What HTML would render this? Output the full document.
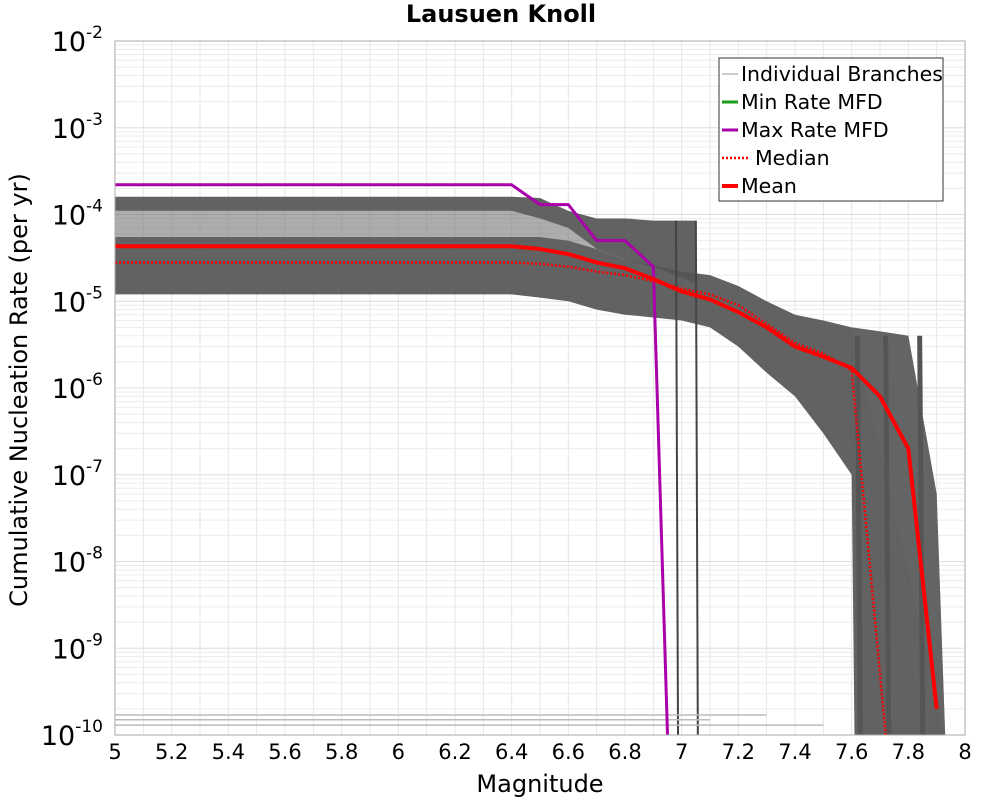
<!DOCTYPE html>
<html><head><meta charset="utf-8"><style>
body{margin:0;background:#fff;}
svg{display:block;font-family:"DejaVu Sans","Liberation Sans",sans-serif;}
</style></head><body>
<svg id="chart" width="1000" height="800" viewBox="0 0 1000 800" xmlns="http://www.w3.org/2000/svg">
<text x="501" y="22" text-anchor="middle" font-size="24" font-weight="bold">Lausuen Knoll</text>
<g id="grid"></g>
<g id="bands"></g>
<g id="lines"></g>
<rect x="115" y="41" width="850" height="694" fill="none" stroke="#aaa" stroke-width="1"/>
<g id="ticks"></g>
<text x="540" y="792" text-anchor="middle" font-size="24">Magnitude</text>
<text transform="translate(27,390) rotate(-90)" text-anchor="middle" font-size="24">Cumulative Nucleation Rate (per yr)</text>
<g>
<rect x="719" y="58" width="224" height="143" fill="#fff" stroke="#333" stroke-width="1"/>
<line x1="722" y1="74" x2="738" y2="74" stroke="#999" stroke-width="1"/>
<text x="741" y="81" font-size="20.5">Individual Branches</text>
<line x1="722" y1="102" x2="738" y2="102" stroke="#1a9e1a" stroke-width="3"/>
<text x="741" y="109" font-size="20.5">Min Rate MFD</text>
<line x1="722" y1="130" x2="738" y2="130" stroke="#aa00aa" stroke-width="3"/>
<text x="741" y="137" font-size="20.5">Max Rate MFD</text>
<line x1="722" y1="158" x2="750" y2="158" stroke="#f00" stroke-width="2.5" stroke-dasharray="2,2"/>
<text x="755" y="165" font-size="20.5">Median</text>
<line x1="722" y1="186" x2="738" y2="186" stroke="#f00" stroke-width="4"/>
<text x="741" y="193" font-size="20.5">Mean</text>
</g>
</svg>
<script>
const NS="http://www.w3.org/2000/svg";
const xTicks=[5,5.2,5.4,5.6,5.8,6,6.2,6.4,6.6,6.8,7,7.2,7.4,7.6,7.8,8];
const xTickLabels=["5","5.2","5.4","5.6","5.8","6","6.2","6.4","6.6","6.8","7","7.2","7.4","7.6","7.8","8"];
const yExps=[-2,-3,-4,-5,-6,-7,-8,-9,-10];
const meanMags=[5,6.4,6.5,6.6,6.7,6.8,6.9,7.0,7.1,7.2,7.3,7.4,7.5,7.6,7.7,7.8,7.9];
const meanVals=[4.3e-5,4.3e-5,4.0e-5,3.5e-5,2.8e-5,2.4e-5,1.8e-5,1.3e-5,1.05e-5,7.5e-6,5e-6,3e-6,2.3e-6,1.7e-6,8e-7,2e-7,2e-10];
const medMags=[5,6.4,6.5,6.6,6.7,6.8,6.9,7.0,7.1,7.2,7.3,7.4,7.5,7.6,7.72];
const medVals=[2.8e-5,2.8e-5,2.7e-5,2.5e-5,2.2e-5,2e-5,1.7e-5,1.4e-5,1.2e-5,9e-6,5.5e-6,3.3e-6,2.5e-6,1.6e-6,1e-10];
const maxMags=[5,6.4,6.5,6.6,6.7,6.8,6.9,6.95];
const maxVals=[2.2e-4,2.2e-4,1.3e-4,1.3e-4,5e-5,5e-5,2.5e-5,1e-10];
const mainMags=[5,6.4,6.5,6.6,6.7,6.8,6.9,7.0,7.1,7.2,7.3,7.4,7.5,7.6,7.7,7.8,7.9,7.93];
const mainUpper=[5.5e-5,5.5e-5,5.5e-5,5e-5,4e-5,3e-5,2.6e-5,2.2e-5,2e-5,1.5e-5,1e-5,7e-6,6e-6,5e-6,4.5e-6,4e-6,6e-8,1e-10];
const mainLowMags=[5,6.4,6.5,6.6,6.7,6.8,6.9,7.0,7.1,7.2,7.3,7.4,7.5,7.6,7.61];
const mainLower=[1.2e-5,1.2e-5,1.1e-5,1e-5,8e-6,7e-6,6.5e-6,6e-6,5e-6,3e-6,1.5e-6,8e-7,3e-7,1e-7,1e-10];
const upMags=[5,6.4,6.5,6.6,6.7,6.8,6.9,6.98,7.05];
const upUpper=[1.6e-4,1.6e-4,1.55e-4,1.1e-4,9e-5,9e-5,8.5e-5,8.5e-5,8.5e-5];
const upLower=[1.1e-4,1.1e-4,9e-5,7e-5,4e-5,3e-5,2.5e-5,2e-5,1.6e-5];
const lightUpper=[1.1e-4,1.1e-4,9e-5,7e-5,4e-5,3e-5,2.5e-5,2e-5,1.6e-5];
const lightLower=[5.5e-5,5.5e-5,5.5e-5,5e-5,4e-5,3e-5,2.6e-5,2.2e-5,2e-5];
const tailMags=[7.6,7.7,7.8,7.9,7.93];
const tailTop=[5e-6,4.5e-6,4e-6,6e-8,1e-10];
const dropMags=[6.98,7.05];
const dropTop=[8.5e-5,8.5e-5];
const floorLevels=[1.3e-10,1.5e-10,1.7e-10];
const floorEnds=[7.5,7.1,7.3];

const X0=115,X1=965,Y0=41,Y1=735;
const xs=m=>X0+(m-5)/3*(X1-X0);
const ys=v=>Y0+(-2-Math.log10(v))/8*(Y1-Y0);
function mk(tag,attrs,parent){const e=document.createElementNS(NS,tag);for(const k in attrs)e.setAttribute(k,attrs[k]);parent.appendChild(e);return e;}
const grid=document.getElementById('grid'),bands=document.getElementById('bands'),lines=document.getElementById('lines'),ticks=document.getElementById('ticks');
for(let m=5.1;m<8;m+=0.1){const l=mk('line',{x1:xs(m),x2:xs(m),y1:Y0,y2:Y1,stroke:'#e6e6e6','stroke-width':1},grid);

}
for(let e=-10;e<-2;e++){for(let k=1;k<10;k++){const v=k*Math.pow(10,e);const l=mk('line',{x1:X0,x2:X1,y1:ys(v),y2:ys(v),stroke:k==1?'#ddd':'#ececec','stroke-width':1},grid);

}}
function pts(ms,vs){return ms.map((m,i)=>xs(m)+','+ys(vs[i]));}
function poly(top,bot,fill,op,name){const p=mk('polygon',{points:top.concat(bot.reverse()).join(' '),fill:fill,'fill-opacity':op},bands);

}
poly(pts(upMags,lightUpper),pts(upMags,lightLower),'#777',0.6,'branch-band-light');
poly(pts(mainMags,mainUpper),pts(mainLowMags,mainLower),'#555',0.92,'branch-band-main');
poly(pts(upMags,upUpper),pts(upMags,upLower),'#555',0.92,'branch-band-upper');
poly(pts(tailMags,tailTop),[xs(7.93)+','+Y1,xs(7.6)+','+Y1],'#666',0.6,'branch-tail');
dropMags.forEach((m,i)=>{const l=mk('line',{x1:xs(m),x2:xs(m)+2,y1:ys(dropTop[i]),y2:Y1,stroke:'#444','stroke-width':2},lines);

});
[7.62,7.72,7.84].forEach(m=>{const l=mk('line',{x1:xs(m),x2:xs(m)+3,y1:ys(4e-6),y2:Y1,stroke:'#555','stroke-width':5},lines);

});
floorLevels.forEach((v,i)=>{const l=mk('line',{x1:X0,x2:xs(floorEnds[i]),y1:ys(v),y2:ys(v),stroke:'#bbb','stroke-width':1.5},lines);

});
function pl(ms,vs,st,w,dash,name){const p=mk('polyline',{points:pts(ms,vs).join(' '),fill:'none',stroke:st,'stroke-width':w,'stroke-linejoin':'round'},lines);if(dash)p.setAttribute('stroke-dasharray',dash);

}
pl(maxMags,maxVals,'#aa00aa',3,null,'max-rate-line');
pl(medMags,medVals,'#f00',2.5,'2,2','median-line');
pl(meanMags,meanVals,'#f00',4,null,'mean-line');
xTicks.forEach((t,i)=>{const tx=mk('text',{x:xs(t),y:759,'text-anchor':'middle','font-size':21},ticks);tx.textContent=xTickLabels[i];

});
yExps.forEach(e=>{const y=ys(Math.pow(10,e));const tx=mk('text',{x:103,y:y+10,'text-anchor':'end','font-size':27},ticks);


tx.innerHTML='10<tspan dy="-13" font-size="17">'+e+'</tspan>';});
</script>
</body></html>
